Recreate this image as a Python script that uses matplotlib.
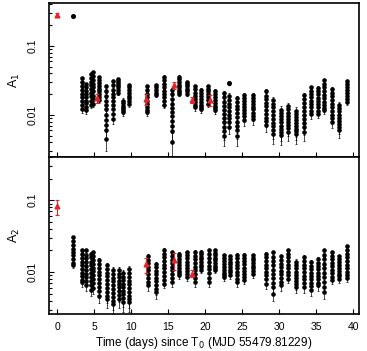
import numpy as np
import matplotlib.pyplot as plt

plt.rcParams["font.family"] = ["Liberation Sans", "DejaVu Sans"]

# ---- A1 amplitude: per-observation clusters (time in days, amplitudes)
t_a1 = [3.3, 3.9, 4.6, 4.9, 5.7, 6.6, 7.5, 8.25, 8.9, 9.7,
        12.2, 13.4, 14.4, 15.5, 16.5, 17.6, 18.65, 19.5, 20.4, 21.35,
        22.5, 23.25, 24.3, 25.3, 26.4, 28.2, 29.2, 30.2, 31.2, 32.3,
        33.3, 34.3, 35.2, 36.1, 37.1, 38.1, 39.2]
a1_vals = [
    [0.034, 0.030, 0.026, 0.023, 0.020, 0.018, 0.016, 0.014, 0.012],
    [0.028, 0.025, 0.022, 0.020, 0.018, 0.016, 0.015, 0.013, 0.0118],
    [0.039, 0.034, 0.030, 0.027, 0.024, 0.021, 0.019, 0.016, 0.014],
    [0.042, 0.037, 0.032, 0.028, 0.025, 0.022, 0.019, 0.017, 0.0145],
    [0.035, 0.032, 0.029, 0.026, 0.024, 0.022, 0.020, 0.018, 0.0165],
    [0.026, 0.022, 0.019, 0.016, 0.014, 0.012, 0.010, 0.0085, 0.0072, 0.006, 0.0045],
    [0.031, 0.027, 0.023, 0.020, 0.018, 0.016, 0.014, 0.012, 0.0104, 0.0088],
    [0.033, 0.031, 0.029, 0.027, 0.025, 0.023, 0.021],
    [0.016, 0.0148, 0.0136, 0.0125, 0.0117, 0.011],
    [0.027, 0.025, 0.023, 0.021, 0.019, 0.0175, 0.016, 0.0145],
    [0.026, 0.023, 0.020, 0.018, 0.016, 0.0145, 0.013, 0.0118, 0.011],
    [0.027, 0.025, 0.023, 0.021, 0.0195],
    [0.036, 0.032, 0.028, 0.025, 0.022, 0.020, 0.018, 0.016, 0.014],
    [0.023, 0.020, 0.017, 0.0145, 0.0125, 0.011, 0.0095, 0.0082, 0.007, 0.0058, 0.004],
    [0.036, 0.033, 0.030, 0.027, 0.025, 0.023, 0.0215, 0.020],
    [0.030, 0.028, 0.026, 0.024, 0.022, 0.020],
    [0.026, 0.024, 0.021, 0.019, 0.017, 0.0155, 0.014, 0.013],
    [0.023, 0.021, 0.019, 0.017, 0.0155, 0.014, 0.013, 0.012],
    [0.026, 0.024, 0.022, 0.020, 0.018, 0.0165, 0.0145],
    [0.022, 0.020, 0.018, 0.0165, 0.015, 0.0135, 0.0125, 0.0118],
    [0.021, 0.018, 0.0155, 0.0135, 0.0118, 0.0103, 0.009, 0.0078, 0.0067, 0.0058, 0.005],
    [0.019, 0.0165, 0.0145, 0.013, 0.0115, 0.010, 0.009, 0.0078, 0.0067],
    [0.0176, 0.0155, 0.0135, 0.012, 0.0105, 0.0092, 0.008, 0.007, 0.006, 0.005],
    [0.0195, 0.0175, 0.0158, 0.0143, 0.013, 0.0118, 0.0105, 0.0095, 0.0085],
    [0.0195, 0.0178, 0.016, 0.0145, 0.0132, 0.012, 0.0108, 0.0096, 0.0086],
    [0.022, 0.019, 0.017, 0.015, 0.0133, 0.0117, 0.0103, 0.0091, 0.0081, 0.0072],
    [0.0165, 0.0145, 0.0128, 0.0113, 0.010, 0.0088, 0.0077, 0.0068, 0.006, 0.0053],
    [0.0118, 0.0106, 0.0095, 0.0086, 0.0078, 0.007, 0.0063, 0.0057, 0.0051],
    [0.0135, 0.012, 0.0108, 0.0097, 0.0088, 0.0079, 0.0071, 0.0064, 0.0057],
    [0.0114, 0.0103, 0.0093, 0.0084, 0.0076, 0.0069, 0.0063, 0.0058, 0.0053],
    [0.0195, 0.017, 0.015, 0.013, 0.0115, 0.010, 0.0088, 0.0077, 0.0066, 0.0057],
    [0.025, 0.0225, 0.020, 0.018, 0.016, 0.0145, 0.013, 0.0115, 0.0103],
    [0.0245, 0.022, 0.0198, 0.0178, 0.016, 0.0143, 0.0128, 0.0115, 0.0104],
    [0.032, 0.028, 0.025, 0.022, 0.0195, 0.0175, 0.0155, 0.0138, 0.0125, 0.0118],
    [0.024, 0.021, 0.0185, 0.0163, 0.0145, 0.0128, 0.0113, 0.010, 0.0089, 0.0079],
    [0.014, 0.0126, 0.0113, 0.0101, 0.0091, 0.0082, 0.0074, 0.0067, 0.0061],
    [0.031, 0.028, 0.0255, 0.023, 0.021, 0.019, 0.0172, 0.0155],
]
a1_single_t = [2.1, 23.25]
a1_single_v = [0.27, 0.029]
a1_red_t = [0.0, 5.45, 12.0, 15.85, 18.2, 20.65]
a1_red_v = [0.28, 0.0175, 0.017, 0.027, 0.0165, 0.0165]
a1_red_err = [0.02, 0.0025, 0.003, 0.003, 0.0015, 0.003]

# ---- A2 amplitude
t_a2 = [2.1, 3.3, 3.9, 4.6, 4.9, 5.7, 6.7, 7.6, 8.3, 8.9, 9.7,
        12.3, 13.4, 14.4, 15.5, 16.5, 17.6, 18.65, 19.5, 20.5, 21.35,
        22.5, 23.3, 24.3, 25.3, 26.4, 28.2, 29.2, 30.3, 31.2, 32.3,
        33.3, 34.3, 35.2, 36.1, 37.1, 38.1, 39.2]
a2_vals = [
    [0.031, 0.027, 0.024, 0.021, 0.019, 0.017, 0.015, 0.0135, 0.0124],
    [0.020, 0.018, 0.0158, 0.014, 0.0125, 0.011, 0.0098, 0.0087, 0.0078, 0.0072],
    [0.020, 0.0175, 0.0155, 0.0137, 0.012, 0.0107, 0.0095, 0.0084, 0.0074, 0.0065],
    [0.018, 0.016, 0.014, 0.0124, 0.011, 0.0097, 0.0086, 0.0076, 0.0066, 0.0056],
    [0.0188, 0.0165, 0.0146, 0.013, 0.0115, 0.0102, 0.009, 0.008, 0.007, 0.006],
    [0.0146, 0.013, 0.0115, 0.0101, 0.009, 0.008, 0.007, 0.0062, 0.0054, 0.0047],
    [0.0124, 0.011, 0.0098, 0.0087, 0.0077, 0.0068, 0.006, 0.0053, 0.0047, 0.0042],
    [0.0106, 0.0094, 0.0083, 0.0074, 0.0066, 0.0058, 0.0051, 0.0045, 0.004, 0.0036],
    [0.0106, 0.0095, 0.0085, 0.0076, 0.0068, 0.0061, 0.0054, 0.0048, 0.0042],
    [0.0096, 0.0086, 0.0077, 0.0069, 0.0061, 0.0055, 0.0049, 0.0043, 0.0038],
    [0.011, 0.0097, 0.0086, 0.0076, 0.0068, 0.006, 0.0053, 0.0047, 0.0042, 0.0038],
    [0.0166, 0.0148, 0.0132, 0.0118, 0.0105, 0.0093, 0.0082, 0.0073, 0.0065],
    [0.013, 0.0116, 0.0104, 0.0093, 0.0083, 0.0074, 0.0066, 0.0058, 0.0052],
    [0.0205, 0.018, 0.016, 0.0142, 0.0126, 0.0112, 0.0099, 0.0088, 0.0078, 0.0069],
    [0.0188, 0.0167, 0.0148, 0.0132, 0.0118, 0.0105, 0.0093, 0.0082, 0.0072],
    [0.018, 0.0165, 0.015, 0.0137, 0.0125, 0.0114, 0.0104, 0.0096, 0.009],
    [0.0188, 0.0171, 0.0155, 0.014, 0.0127, 0.0115, 0.0104, 0.0094, 0.0085],
    [0.019, 0.0169, 0.015, 0.0134, 0.0119, 0.0106, 0.0094, 0.0082, 0.0072],
    [0.019, 0.0176, 0.0163, 0.015, 0.0138, 0.0127, 0.0116, 0.0106],
    [0.0201, 0.0178, 0.0157, 0.0139, 0.0123, 0.0109, 0.0096, 0.0083, 0.0072],
    [0.0201, 0.0186, 0.0172, 0.0158, 0.0145, 0.0133, 0.0121, 0.0112, 0.0106],
    [0.0171, 0.0156, 0.0142, 0.013, 0.0119, 0.0108, 0.0098, 0.0091, 0.0085],
    [0.0165, 0.0152, 0.014, 0.0128, 0.0118, 0.0108, 0.0099, 0.009],
    [0.0175, 0.0157, 0.014, 0.0125, 0.0112, 0.01, 0.009, 0.008, 0.0072],
    [0.0175, 0.0158, 0.0142, 0.0128, 0.0115, 0.0104, 0.0094, 0.0085, 0.0077],
    [0.0171, 0.0158, 0.0146, 0.0134, 0.0123, 0.0112, 0.0102, 0.0093],
    [0.018, 0.016, 0.0142, 0.0127, 0.0113, 0.0101, 0.009, 0.0079, 0.0068],
    [0.0188, 0.0163, 0.0142, 0.0124, 0.0108, 0.0094, 0.0082, 0.0071, 0.0061, 0.0049],
    [0.0165, 0.0147, 0.0131, 0.0117, 0.0104, 0.0093, 0.0082, 0.0073, 0.0065],
    [0.0201, 0.0179, 0.016, 0.0143, 0.0127, 0.0113, 0.0101, 0.009, 0.008],
    [0.014, 0.0126, 0.0113, 0.0101, 0.0091, 0.0082, 0.0074, 0.0067, 0.0061],
    [0.016, 0.0142, 0.0126, 0.0113, 0.01, 0.0089, 0.0079, 0.007, 0.0061],
    [0.0136, 0.0122, 0.0109, 0.0098, 0.0088, 0.0079, 0.0071, 0.0064, 0.0057],
    [0.015, 0.0135, 0.0121, 0.0109, 0.0098, 0.0088, 0.0079, 0.0071, 0.0065],
    [0.0201, 0.0173, 0.015, 0.013, 0.0113, 0.0098, 0.0085, 0.0073, 0.0062, 0.0052],
    [0.0188, 0.0168, 0.015, 0.0134, 0.012, 0.0107, 0.0096, 0.0086, 0.0077],
    [0.0165, 0.015, 0.0137, 0.0124, 0.0113, 0.0103, 0.0094, 0.0087, 0.008],
    [0.0228, 0.0202, 0.018, 0.016, 0.0142, 0.0126, 0.0112, 0.01, 0.009, 0.0082],
]
a2_red_t = [0.0, 12.0, 15.85, 18.2]
a2_red_v = [0.082, 0.0128, 0.0145, 0.0095]
a2_red_err = [0.019, 0.003, 0.004, 0.001]

# typical absolute error per panel
err_a1 = 0.0015
err_a2 = 0.001

xticks = [0, 5, 10, 15, 20, 25, 30, 35, 40]

fig = plt.figure(figsize=(3.67, 3.51), dpi=100)
ax1 = fig.add_axes([0.1335, 0.5527, 0.845, 0.4388])
ax2 = fig.add_axes([0.1335, 0.1054, 0.845, 0.4473], sharex=ax1)


def draw_panel(ax, times, clusters, err, red_t, red_v, red_err):
    for t, vals in zip(times, clusters):
        ax.errorbar(np.full(len(vals), t), vals, yerr=err, fmt="o",
                    color="black", ms=2.3, elinewidth=0.5, capsize=0.8,
                    capthick=0.5, zorder=2)
    ax.errorbar(red_t, red_v, yerr=red_err, fmt="^", color="#e3262e",
                ms=3.4, elinewidth=0.8, capsize=1.3, capthick=0.8, zorder=3)


draw_panel(ax1, t_a1, a1_vals, err_a1, a1_red_t, a1_red_v, a1_red_err)
ax1.errorbar(a1_single_t, a1_single_v, yerr=[0.008, 0.0015], fmt="o",
             color="black", ms=2.6, elinewidth=0.5, capsize=0.8, zorder=2)
draw_panel(ax2, t_a2, a2_vals, err_a2, a2_red_t, a2_red_v, a2_red_err)

for ax, lab, ylim in [(ax1, "A$_1$", (0.00245, 0.42)),
                      (ax2, "A$_2$", (0.0026, 0.40))]:
    ax.set_yscale("log")
    ax.set_ylim(*ylim)
    ax.set_xlim(-1.1, 40.8)
    ax.set_xticks(xticks)
    ax.set_yticks([0.01, 0.1])
    ax.set_yticklabels(["0.01", "0.1"], rotation=90, va="center")
    ax.tick_params(axis="both", which="both", direction="in", labelsize=7.5,
                   top=False, right=False, width=0.8)
    ax.tick_params(which="major", length=3.5)
    ax.tick_params(which="minor", length=2)
    ax.tick_params(axis="y", pad=8.5)
    ax.tick_params(axis="x", pad=6)
    ax.set_ylabel(lab, fontsize=9, labelpad=4)
    for s in ax.spines.values():
        s.set_linewidth(1.2)

ax1.tick_params(labelbottom=False)
ax2.set_xlabel("Time (days) since T$_0$ (MJD 55479.81229)", fontsize=8.5,
               labelpad=2)

fig.savefig("out.png", dpi=100)
